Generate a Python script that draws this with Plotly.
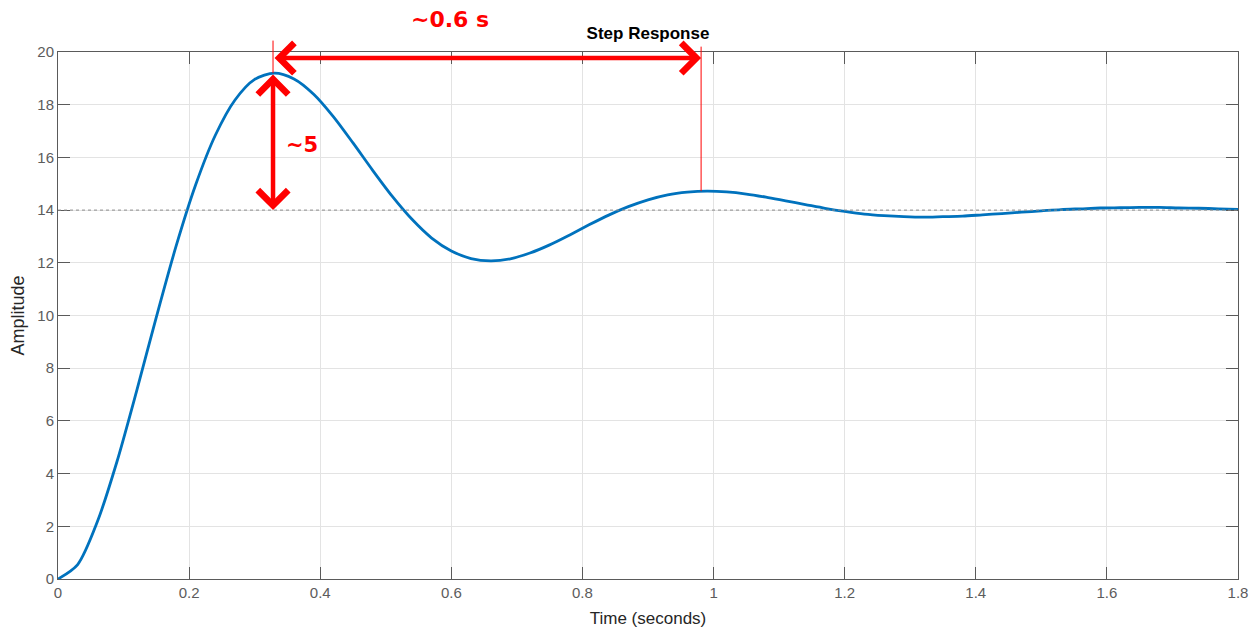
import plotly.graph_objects as go

# Data (step response)
time_s = [0.00, 0.03, 0.06, 0.09, 0.12, 0.15, 0.18, 0.21, 0.24, 0.27, 0.30, 0.33,
          0.36, 0.39, 0.42, 0.45, 0.48, 0.51, 0.54, 0.57, 0.60, 0.63, 0.66, 0.69,
          0.72, 0.75, 0.78, 0.81, 0.84, 0.87, 0.90, 0.93, 0.96, 0.99, 1.02, 1.05,
          1.08, 1.11, 1.14, 1.17, 1.20, 1.23, 1.26, 1.29, 1.32, 1.35, 1.38, 1.41,
          1.44, 1.47, 1.50, 1.53, 1.56, 1.59, 1.62, 1.65, 1.68, 1.71, 1.74, 1.77, 1.80]
amplitude = [0.00, 0.55, 2.17, 4.46, 7.14, 9.94, 12.62, 14.96, 16.84, 18.18, 18.96, 19.20,
             18.98, 18.40, 17.55, 16.55, 15.51, 14.52, 13.65, 12.94, 12.45, 12.16, 12.07, 12.15,
             12.37, 12.68, 13.05, 13.44, 13.81, 14.13, 14.39, 14.58, 14.68, 14.72, 14.69, 14.61,
             14.49, 14.35, 14.21, 14.07, 13.95, 13.85, 13.79, 13.75, 13.73, 13.75, 13.77, 13.82,
             13.87, 13.92, 13.97, 14.02, 14.05, 14.08, 14.09, 14.10, 14.10, 14.08, 14.07, 14.05, 14.03]

steady_state = 14
peak_time, peak_value = 0.328, 19.2
second_peak_time, second_peak_value = 0.981, 14.72
arrow_level = 19.77
period_label = "~0.6 s"
overshoot_label = "~5"
x_ticks = [0, 0.2, 0.4, 0.6, 0.8, 1, 1.2, 1.4, 1.6, 1.8]
y_ticks = [0, 2, 4, 6, 8, 10, 12, 14, 16, 18, 20]

RED = "#ff0000"
SANS = "Liberation Sans, Arial"
fig = go.Figure()
fig.add_trace(go.Scatter(x=time_s, y=amplitude, mode="lines",
                         line=dict(color="#0072BD", width=2.8, shape="spline", smoothing=0.8),
                         showlegend=False, hoverinfo="skip"))

# steady-state dotted line
fig.add_shape(type="line", xref="paper", x0=0, x1=1, yref="y", y0=steady_state, y1=steady_state,
              line=dict(color="#8c8c8c", width=1, dash="dot"), layer="above")

ann = []
# thin red vertical markers (extend above plot)
ann.append(dict(x=peak_time, y=peak_value, xref="x", yref="y", ax=0, ay=-34, text="",
                showarrow=True, arrowhead=0, arrowwidth=1, arrowcolor=RED, standoff=0, startstandoff=0))
ann.append(dict(x=second_peak_time, y=second_peak_value, xref="x", yref="y", ax=0, ay=-146, text="",
                showarrow=True, arrowhead=0, arrowwidth=1, arrowcolor=RED, standoff=0, startstandoff=0))
# horizontal double arrow
ann.append(dict(x=second_peak_time, y=arrow_level, xref="x", yref="y",
                ax=peak_time, ay=arrow_level, axref="x", ayref="y", text="",
                showarrow=True, arrowhead=4, startarrowhead=4, arrowside="end+start",
                arrowwidth=4.5, arrowsize=1.3, startarrowsize=1.3, arrowcolor=RED))
# vertical double arrow
ann.append(dict(x=peak_time, y=steady_state, xref="x", yref="y",
                ax=peak_time, ay=peak_value, axref="x", ayref="y", text="",
                showarrow=True, arrowhead=4, startarrowhead=4, arrowside="end+start",
                arrowwidth=4.5, arrowsize=1.3, startarrowsize=1.3, arrowcolor=RED))
# labels
ann.append(dict(x=0.598, y=1.061, xref="x", yref="paper", text="<b>" + period_label + "</b>",
                showarrow=False, font=dict(family="DejaVu Sans", size=22, color=RED),
                xanchor="center", yanchor="middle"))
ann.append(dict(x=0.372, y=16.47, xref="x", yref="y", text="<b>" + overshoot_label + "</b>",
                showarrow=False, font=dict(family="DejaVu Sans", size=21, color=RED),
                xanchor="center", yanchor="middle"))

AX = "#5a5a5a"
common = dict(showline=True, linecolor=AX, linewidth=1, mirror="allticks", ticks="inside",
              ticklen=12, tickcolor=AX, tickwidth=1, showgrid=True, gridcolor="#e3e3e3",
              gridwidth=1, zeroline=False, automargin=False,
              tickfont=dict(family=SANS, size=15, color="#5c5c5c"))

fig.update_layout(
    width=1258, height=633,
    margin=dict(l=58, r=20, t=52, b=54),
    paper_bgcolor="white", plot_bgcolor="white",
    title=dict(text="<b>Step Response</b>", x=0.5, xref="paper", xanchor="center",
               y=1 - 33 / 633, yanchor="middle",
               font=dict(family=SANS, size=17, color="black")),
    xaxis=dict(range=[0, 1.8], tickvals=x_ticks, ticktext=[f"{v:g}" for v in x_ticks],
               title=dict(text="Time (seconds)", standoff=12,
                          font=dict(family=SANS, size=17, color="#262626")),
               **common),
    yaxis=dict(range=[0, 20], tickvals=y_ticks,
               title=dict(text="Amplitude", standoff=8,
                          font=dict(family=SANS, size=18, color="#262626")),
               **common),
    annotations=ann,
)

fig.write_html("out.html")
